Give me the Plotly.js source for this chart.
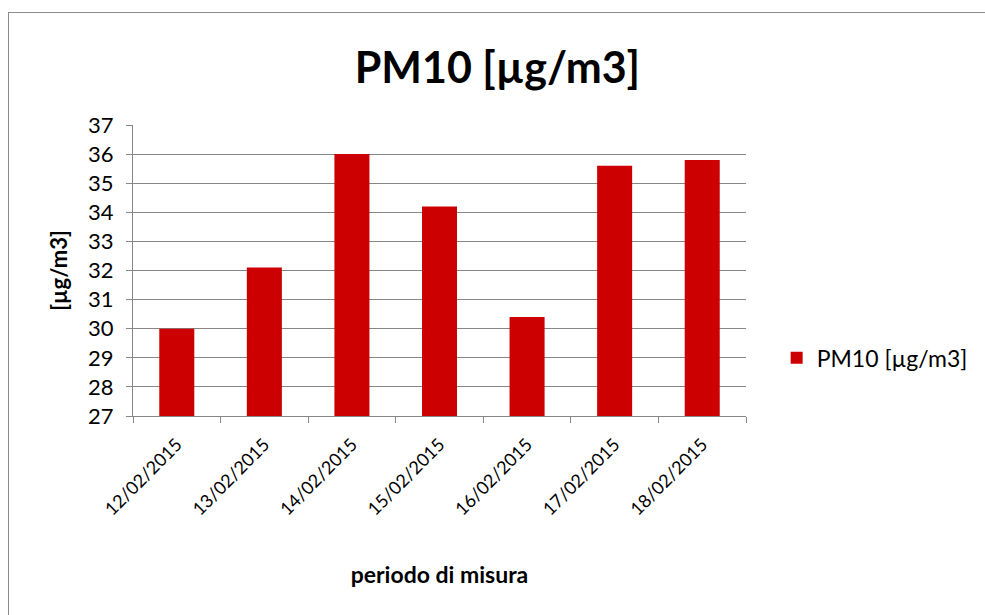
<!DOCTYPE html>
<html>
<head>
<meta charset="utf-8">
<script src="https://cdn.plot.ly/plotly-3.0.1.min.js"></script>
<style>
  body { margin: 0; background: #fff; }
  #myDiv { width: 985px; height: 615px; }
  #frame { position: absolute; left: 8px; top: 12px; width: 1000px; height: 650px;
           border: 1px solid #8c8c8c; pointer-events: none; }
</style>
</head>
<body>
<div id="myDiv"></div>
<div id="frame"></div>
<script>
// giorni di misura e valori PM10
var days = ['12/02/2015', '13/02/2015', '14/02/2015', '15/02/2015', '16/02/2015', '17/02/2015', '18/02/2015'];
var pm10 = [30.0, 32.1, 36.0, 34.2, 30.4, 35.6, 35.8];
var yTicks = [27, 28, 29, 30, 31, 32, 33, 34, 35, 36, 37];

var font = 'Lato, "Open Sans", sans-serif';

var trace1 = {
  x: days,
  y: pm10,
  type: 'bar',
  name: 'PM10 [µg/m3]',
  marker: { color: '#CC0000' }
};

var layout = {
  width: 985,
  height: 615,
  margin: { l: 133, r: 237, t: 125, b: 199 },
  title: {
    text: '<b>PM10 [µg/m3]</b>',
    font: { family: font, size: 43, color: '#000' },
    x: 0.505, xanchor: 'center',
    y: 0.89, yanchor: 'middle'
  },
  xaxis: {
    type: 'category',
    tickangle: -45,
    tickson: 'boundaries',
    ticks: 'outside',
    ticklen: 6,
    tickcolor: '#868686',
    ticklabelstandoff: 10,
    showline: true,
    linecolor: '#868686',
    showgrid: false,
    tickfont: { family: font, size: 18, color: '#000' },
    title: { text: '<b>periodo di misura</b>', font: { family: font, size: 23, color: '#000' }, standoff: 48 }
  },
  yaxis: {
    range: [27, 37],
    tickvals: yTicks,
    ticks: 'outside',
    ticklen: 6,
    tickcolor: '#868686',
    ticklabelstandoff: 8,
    showline: true,
    linecolor: '#868686',
    gridcolor: '#868686',
    zeroline: false,
    tickfont: { family: font, size: 22, color: '#000' },
    title: { text: '<b>[µg/m3]</b>', font: { family: font, size: 22, color: '#000' }, standoff: 14 }
  },
  bargap: 0.6,
  showlegend: true,
  legend: {
    x: 1.05, xanchor: 'left',
    y: 0.2, yanchor: 'middle',
    font: { family: font, size: 23, color: '#000' }
  },
  plot_bgcolor: 'rgb(255, 255, 255)',
  paper_bgcolor: 'rgb(255, 255, 255)'
};

Plotly.newPlot('myDiv', [trace1], layout, { displayModeBar: false });
</script>
</body>
</html>
